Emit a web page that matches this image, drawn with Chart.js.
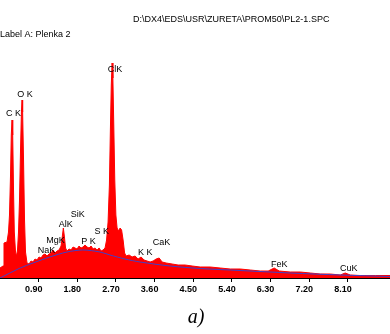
<!DOCTYPE html>
<html>
<head>
<meta charset="utf-8">
<script src="https://cdn.jsdelivr.net/npm/chart.js@4"></script>
<style>
  html, body { margin: 0; padding: 0; background: #fff; }
  canvas { display: block; }
</style>
</head>
<body>
<canvas id="spectrum" width="390" height="334"></canvas>
<script>
// ================= SPECTRUM DATA =================
const energyKeV = [
  0.000, 0.070, 0.093, 0.163, 0.198, 0.221, 0.245, 0.263, 0.280, 0.296,
  0.315, 0.333, 0.361, 0.384, 0.408, 0.431, 0.454, 0.478, 0.499, 0.513,
  0.527, 0.548, 0.571, 0.594, 0.629, 0.676, 0.722, 0.769, 0.815, 0.862,
  0.909, 0.955, 1.002, 1.048, 1.095, 1.142, 1.188, 1.235, 1.281, 1.328,
  1.375, 1.421, 1.452, 1.475, 1.498, 1.526, 1.561, 1.608, 1.654, 1.701,
  1.747, 1.794, 1.841, 1.887, 1.934, 1.980, 2.027, 2.074, 2.120, 2.167,
  2.213, 2.260, 2.307, 2.353, 2.400, 2.446, 2.481, 2.516, 2.547, 2.570,
  2.591, 2.610, 2.628, 2.649, 2.672, 2.698, 2.726, 2.761, 2.796, 2.831,
  2.866, 2.901, 2.936, 3.006, 3.075, 3.145, 3.215, 3.285, 3.355, 3.425,
  3.495, 3.565, 3.635, 3.705, 3.774, 3.868, 4.007, 4.147, 4.310, 4.473,
  4.660, 4.893, 5.126, 5.359, 5.592, 5.825, 6.058, 6.244, 6.384, 6.500,
  6.757, 6.990, 7.223, 7.456, 7.689, 7.922, 8.038, 8.155, 8.388, 8.737,
  9.087
];
const spectrumCounts = [
  100, 120, 350, 360, 460, 630, 1030, 1430, 1580, 1430,
  880, 460, 260, 220, 280, 460, 780, 1280, 1660, 1780,
  1660, 1180, 580, 260, 150, 140, 170, 160, 190, 180,
  210, 200, 230, 240, 220, 240, 250, 280, 250, 270,
  280, 320, 420, 500, 420, 300, 270, 290, 280, 310,
  300, 290, 320, 300, 310, 330, 310, 300, 320, 290,
  300, 280, 300, 270, 280, 300, 380, 560, 930, 1480,
  1930, 2150, 2000, 1530, 980, 630, 500, 470, 500, 480,
  380, 250, 220, 230, 210, 220, 190, 210, 180, 170,
  160, 170, 190, 200, 160, 150, 140, 130, 130, 120,
  110, 110, 100, 90, 90, 80, 70, 70, 100, 70,
  60, 60, 50, 40, 40, 30, 50, 30, 25, 25,
  25
];

// background fit (blue line)
const backgroundKeV = [0.00, 0.23, 0.47, 0.77, 1.16, 1.56, 1.93, 2.33, 2.56, 2.91, 3.26, 3.96, 4.66, 5.59, 6.76, 7.92, 9.09];
const backgroundCounts = [0, 50, 100, 150, 210, 260, 280, 260, 230, 190, 160, 120, 95, 75, 50, 30, 15];

// axis ticks
const tickValues = [0.90, 1.80, 2.70, 3.60, 4.50, 5.40, 6.30, 7.20, 8.10];

// peak labels
const peakNames = ["C K", "O K", "ClK", "NaK", "MgK", "AlK", "SiK", "P K", "S K", "K K", "CaK", "FeK", "CuK"];
const peakKeV = [0.315, 0.58, 2.68, 1.08, 1.29, 1.53, 1.81, 2.06, 2.37, 3.38, 3.76, 6.50, 8.12];
const peakLabelCounts = [1640, 1830, 2080, 275, 370, 530, 635, 360, 460, 250, 350, 130, 95];

const filePath = "D:\\DX4\\EDS\\USR\\ZURETA\\PROM50\\PL2-1.SPC";
const sampleLabel = "Label A: Plenka 2";
const caption = "a)";

// ================= TEXT PLUGIN =================
const textPlugin = {
  id: "spectrumText",
  afterDraw(chart) {
    const ctx = chart.ctx;
    const x = chart.scales.x, y = chart.scales.y;
    ctx.save();
    ctx.fillStyle = "#000";
    ctx.textBaseline = "middle";

    ctx.font = "9px 'Liberation Sans', Arial, sans-serif";
    ctx.textAlign = "left";
    ctx.fillText(filePath, 133, 20, 203);
    ctx.fillText(sampleLabel, 0, 35);

    ctx.textAlign = "center";
    peakNames.forEach((name, i) => {
      ctx.fillText(name, x.getPixelForValue(peakKeV[i]), y.getPixelForValue(peakLabelCounts[i]));
    });

    ctx.font = "italic 20px 'Liberation Serif', 'Times New Roman', serif";
    ctx.fillText(caption, 196, 318);
    ctx.restore();
  }
};

// ================= CHART =================
new Chart(document.getElementById("spectrum"), {
  type: "line",
  data: {
    datasets: [
      {
        label: "Background",
        data: backgroundKeV.map((e, i) => ({ x: e, y: backgroundCounts[i] })),
        borderColor: "#4040c8",
        borderWidth: 1,
        pointRadius: 0,
        fill: false,
        tension: 0.3,
        order: 0
      },
      {
        label: "Spectrum",
        data: energyKeV.map((e, i) => ({ x: e, y: spectrumCounts[i] })),
        borderColor: "#ff0000",
        backgroundColor: "#ff0000",
        borderWidth: 1,
        pointRadius: 0,
        fill: "origin",
        tension: 0,
        order: 1
      }
    ]
  },
  options: {
    responsive: false,
    devicePixelRatio: 1,
    animation: false,
    layout: { padding: { top: 48, bottom: 34, left: 0, right: 0 } },
    plugins: { legend: { display: false }, tooltip: { enabled: false } },
    scales: {
      x: {
        type: "linear",
        min: 0,
        max: 9.08,
        afterBuildTicks: axis => { axis.ticks = tickValues.map(v => ({ value: v })); },
        afterFit: axis => { axis.height = 22; },
        ticks: {
          autoSkip: false,
          maxRotation: 0,
          labelOffset: -5,
          padding: 2,
          color: "#000",
          font: { family: "'Liberation Sans', Arial, sans-serif", size: 9, weight: "bold" },
          callback: v => v.toFixed(2)
        },
        grid: { drawOnChartArea: false, drawTicks: true, tickLength: 4, color: "#000" },
        border: { color: "#000", width: 2 }
      },
      y: { display: false, min: 0, max: 2300 }
    }
  },
  plugins: [textPlugin]
});
</script>
</body>
</html>
